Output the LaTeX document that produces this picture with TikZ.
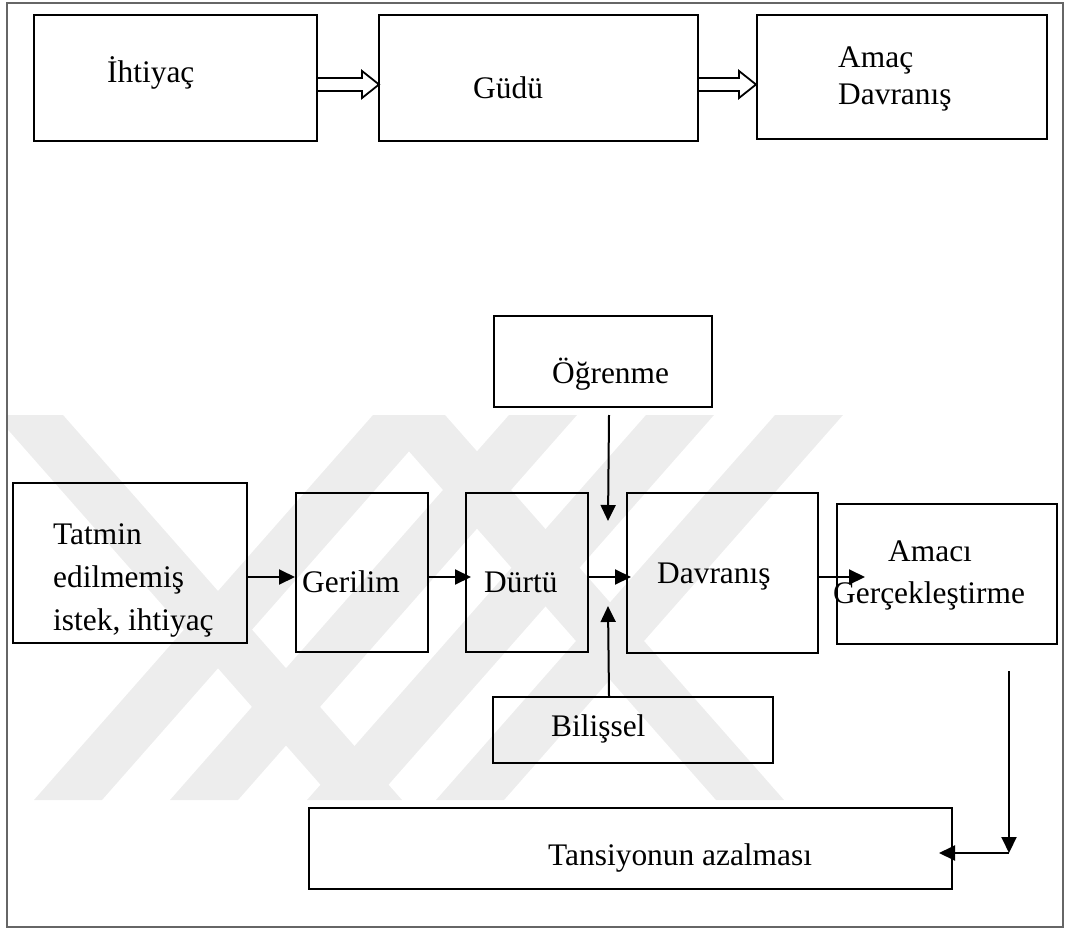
\documentclass[tikz,border=0pt]{standalone}
\usepackage{fontspec}
\setmainfont{Liberation Serif}
\usetikzlibrary{arrows.meta,calc}

\tikzset{
  box/.style={draw=black, line width=2pt, inner sep=0pt},
  lbl/.style={anchor=base west, inner sep=0pt, font=\fontsize{31.4}{36}\selectfont},
  arr/.style={line width=2pt, -{Triangle[length=16pt,width=15pt]}},
  fat/.style={draw=black, line width=1.8pt, line join=miter, fill=white},
  frame/.style={draw=black!60, line width=1.8pt},
  wm/.style={fill=black!7}
}

% open double-line arrow from #1 to the tip #2
\newcommand\hollowarrow[2]{%
  \draw[fat] ($(#1)+(0,-6.5)$) -- ($(#2)+(-17,-6.5)$) -- ($(#2)+(-17,-13.5)$)
    -- (#2) -- ($(#2)+(-17,13.5)$) -- ($(#2)+(-17,6.5)$) -- ($(#1)+(0,6.5)$);}

\begin{document}
\begin{tikzpicture}[x=1pt,y=-1pt]
\useasboundingbox (0,0) rectangle (1067,933);

% faint background mark made of slanted bars
\begin{scope}
  \clip (8,4) rectangle (1062,926);
  \foreach \t in {373,509,646,775}
    \fill[wm] (\t,415) -- (\t+68,415) -- (\t+68-339,800) -- (\t-339,800) -- cycle;
  \foreach \t in {-5,377}
    \fill[wm] (\t,415) -- (\t+68,415) -- (\t+68+339,800) -- (\t+339,800) -- cycle;
\end{scope}

% outer frame
\draw[frame] (7,3) rectangle (1063,927);

% ---- upper chain ----
\node[box, minimum width=283, minimum height=126] (b1) at (175.5,78) {};
\node[box, minimum width=319, minimum height=126] (b2) at (538.5,78) {};
\node[box, minimum width=290, minimum height=124] (b3) at (902,77) {};

\node[lbl] (t1)  at (107,83)  {İhtiyaç};
\node[lbl] (t2)  at (473,99)  {Güdü};
\node[lbl] (t3a) at (838,68)  {Amaç};
\node[lbl] (t3b) at (838,105) {Davranış};

\coordinate (h1s) at (b1.east |- 0,84.5);
\coordinate (h1e) at ($(b2.west |- 0,84.5)+(1,0)$);
\coordinate (h2s) at (b2.east |- 0,84.5);
\coordinate (h2e) at (b3.west |- 0,84.5);
\hollowarrow{h1s}{h1e}
\hollowarrow{h2s}{h2e}

% ---- lower chain ----
\node[box, minimum width=218, minimum height=91]  (ogr) at (603,361.5) {};
\node[box, minimum width=234, minimum height=160] (tat) at (130,563) {};
\node[box, minimum width=132, minimum height=159] (ger) at (362,572.5) {};
\node[box, minimum width=122, minimum height=159] (dur) at (527,572.5) {};
\node[box, minimum width=191, minimum height=160] (dav) at (722.5,573) {};
\node[box, minimum width=220, minimum height=140] (ama) at (947,574) {};
\node[box, minimum width=280, minimum height=66]  (bil) at (633,730) {};
\node[box, minimum width=643, minimum height=81]  (tan) at (630.5,848.5) {};

\node[lbl] (togr) at (552,383) {Öğrenme};
\node[lbl] (tta1) at (53,544)  {Tatmin};
\node[lbl] (tta2) at (53,587)  {edilmemiş};
\node[lbl] (tta3) at (53,630)  {istek, ihtiyaç};
\node[lbl] (tger) at (302,592) {Gerilim};
\node[lbl] (tdur) at (484,592) {Dürtü};
\node[lbl] (tdav) at (657,583) {Davranış};
\node[lbl] (tam1) at (888,561) {Amacı};
\node[lbl] (tam2) at (833,603) {Gerçekleştirme};
\node[lbl] (tbil) at (551,736) {Bilişsel};
\node[lbl] (ttan) at (548,865) {Tansiyonun azalması};

% horizontal flow
\draw[arr] (tat.east |- 0,577) -- (ger.west |- 0,577);
\draw[arr] ($(ger.east |- 0,577)+(-2,0)$) -- ($(dur.west |- 0,577)+(6,0)$);
\draw[arr] ($(dur.east |- 0,577)+(-1,0)$) -- ($(dav.west |- 0,577)+(5,0)$);
\draw[arr] (dav.east |- 0,577) -- ($(ama.west |- 0,577)+(29,0)$);

% influences on behaviour
\draw[arr] ($(ogr.south)+(6,7)$) -- ($(dav.north west)+(-18,29)$);
\draw[arr] ($(bil.north)+(-24,0)$) -- ($(dav.north west)+(-18,114)$);

% feedback to tension reduction
\coordinate (rtop) at ($(ama.south)+(62,26)$);
\coordinate (rcorner) at (rtop |- 0,853);
\draw[arr] (rtop) -- (rcorner);
\draw[arr] (rcorner) -- ($(tan.east |- rcorner)+(-14,0)$);

\end{tikzpicture}
\end{document}
